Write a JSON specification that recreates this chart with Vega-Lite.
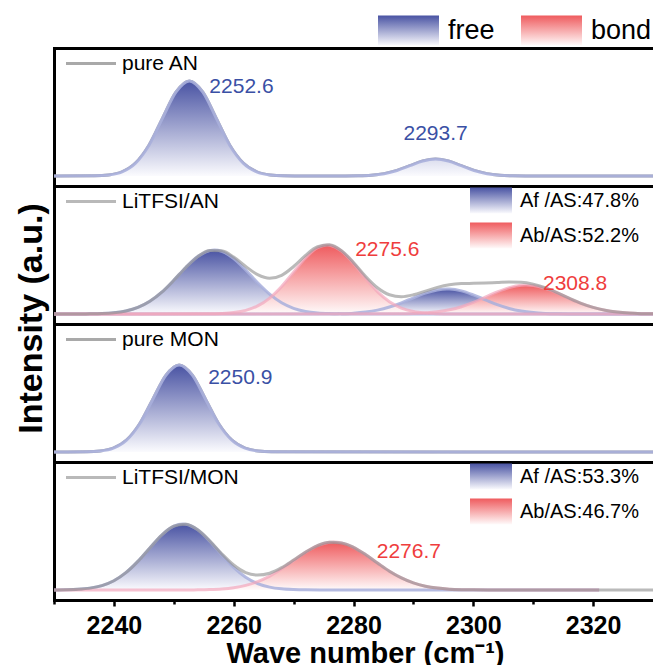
{
  "$schema": "https://vega.github.io/schema/vega-lite/v6.json",
  "padding": {"left": 14, "top": 15, "right": -3, "bottom": -3},
  "config": {
    "view": {"stroke": null},
    "font": "Liberation Sans",
    "axis": {"domainColor": "black", "domainWidth": 3, "domainCap": "square", "grid": false, "tickColor": "black", "labelColor": "black", "titleColor": "black"},
    "legend": {"labelFont": "Liberation Sans", "labelColor": "black", "padding": 0, "title": null}
  },
  "datasets": {
    "pk": [
      {"panel": "pure AN", "peak": "AN", "type": "free", "x": 2230, "y": 0},
      {"panel": "pure AN", "peak": "AN", "type": "free", "x": 2236.85, "y": 0.21},
      {"panel": "pure AN", "peak": "AN", "type": "free", "x": 2239.1, "y": 1.05},
      {"panel": "pure AN", "peak": "AN", "type": "free", "x": 2241.35, "y": 4.17},
      {"panel": "pure AN", "peak": "AN", "type": "free", "x": 2243.6, "y": 12.9},
      {"panel": "pure AN", "peak": "AN", "type": "free", "x": 2245.85, "y": 30.8},
      {"panel": "pure AN", "peak": "AN", "type": "free", "x": 2248.1, "y": 57.6},
      {"panel": "pure AN", "peak": "AN", "type": "free", "x": 2250.35, "y": 83.8},
      {"panel": "pure AN", "peak": "AN", "type": "free", "x": 2252.6, "y": 95},
      {"panel": "pure AN", "peak": "AN", "type": "free", "x": 2254.85, "y": 83.8},
      {"panel": "pure AN", "peak": "AN", "type": "free", "x": 2257.1, "y": 57.6},
      {"panel": "pure AN", "peak": "AN", "type": "free", "x": 2259.35, "y": 30.8},
      {"panel": "pure AN", "peak": "AN", "type": "free", "x": 2261.6, "y": 12.9},
      {"panel": "pure AN", "peak": "AN", "type": "free", "x": 2263.85, "y": 4.17},
      {"panel": "pure AN", "peak": "AN", "type": "free", "x": 2266.1, "y": 1.05},
      {"panel": "pure AN", "peak": "AN", "type": "free", "x": 2268.35, "y": 0.21},
      {"panel": "pure AN", "peak": "AN", "type": "free", "x": 2272, "y": 0},
      {"panel": "pure AN", "peak": "AN", "type": "free", "x": 2278.65, "y": 0.04},
      {"panel": "pure AN", "peak": "AN", "type": "free", "x": 2280.8, "y": 0.19},
      {"panel": "pure AN", "peak": "AN", "type": "free", "x": 2282.95, "y": 0.75},
      {"panel": "pure AN", "peak": "AN", "type": "free", "x": 2285.1, "y": 2.3},
      {"panel": "pure AN", "peak": "AN", "type": "free", "x": 2287.25, "y": 5.52},
      {"panel": "pure AN", "peak": "AN", "type": "free", "x": 2289.4, "y": 10.3},
      {"panel": "pure AN", "peak": "AN", "type": "free", "x": 2291.55, "y": 15.0},
      {"panel": "pure AN", "peak": "AN", "type": "free", "x": 2293.7, "y": 17},
      {"panel": "pure AN", "peak": "AN", "type": "free", "x": 2295.85, "y": 15.0},
      {"panel": "pure AN", "peak": "AN", "type": "free", "x": 2298.0, "y": 10.3},
      {"panel": "pure AN", "peak": "AN", "type": "free", "x": 2300.15, "y": 5.52},
      {"panel": "pure AN", "peak": "AN", "type": "free", "x": 2302.3, "y": 2.3},
      {"panel": "pure AN", "peak": "AN", "type": "free", "x": 2304.45, "y": 0.75},
      {"panel": "pure AN", "peak": "AN", "type": "free", "x": 2306.6, "y": 0.19},
      {"panel": "pure AN", "peak": "AN", "type": "free", "x": 2308.75, "y": 0.04},
      {"panel": "pure AN", "peak": "AN", "type": "free", "x": 2330, "y": 0},

      {"panel": "LiTFSI/AN", "peak": "ANf1", "type": "free", "x": 2230, "y": 0},
      {"panel": "LiTFSI/AN", "peak": "ANf1", "type": "free", "x": 2234, "y": 0.05},
      {"panel": "LiTFSI/AN", "peak": "ANf1", "type": "free", "x": 2236, "y": 0.16},
      {"panel": "LiTFSI/AN", "peak": "ANf1", "type": "free", "x": 2238, "y": 0.47},
      {"panel": "LiTFSI/AN", "peak": "ANf1", "type": "free", "x": 2240, "y": 1.27},
      {"panel": "LiTFSI/AN", "peak": "ANf1", "type": "free", "x": 2242, "y": 3.05},
      {"panel": "LiTFSI/AN", "peak": "ANf1", "type": "free", "x": 2244, "y": 6.57},
      {"panel": "LiTFSI/AN", "peak": "ANf1", "type": "free", "x": 2246, "y": 12.67},
      {"panel": "LiTFSI/AN", "peak": "ANf1", "type": "free", "x": 2248, "y": 21.8},
      {"panel": "LiTFSI/AN", "peak": "ANf1", "type": "free", "x": 2250, "y": 33.7},
      {"panel": "LiTFSI/AN", "peak": "ANf1", "type": "free", "x": 2252, "y": 46.5},
      {"panel": "LiTFSI/AN", "peak": "ANf1", "type": "free", "x": 2254, "y": 57.4},
      {"panel": "LiTFSI/AN", "peak": "ANf1", "type": "free", "x": 2256, "y": 63.4},
      {"panel": "LiTFSI/AN", "peak": "ANf1", "type": "free", "x": 2256.8, "y": 64},
      {"panel": "LiTFSI/AN", "peak": "ANf1", "type": "free", "x": 2258, "y": 62.7},
      {"panel": "LiTFSI/AN", "peak": "ANf1", "type": "free", "x": 2260, "y": 55.5},
      {"panel": "LiTFSI/AN", "peak": "ANf1", "type": "free", "x": 2262, "y": 44.0},
      {"panel": "LiTFSI/AN", "peak": "ANf1", "type": "free", "x": 2264, "y": 31.2},
      {"panel": "LiTFSI/AN", "peak": "ANf1", "type": "free", "x": 2266, "y": 19.8},
      {"panel": "LiTFSI/AN", "peak": "ANf1", "type": "free", "x": 2268, "y": 11.2},
      {"panel": "LiTFSI/AN", "peak": "ANf1", "type": "free", "x": 2270, "y": 5.69},
      {"panel": "LiTFSI/AN", "peak": "ANf1", "type": "free", "x": 2272, "y": 2.59},
      {"panel": "LiTFSI/AN", "peak": "ANf1", "type": "free", "x": 2274, "y": 1.05},
      {"panel": "LiTFSI/AN", "peak": "ANf1", "type": "free", "x": 2276, "y": 0.38},
      {"panel": "LiTFSI/AN", "peak": "ANf1", "type": "free", "x": 2278, "y": 0.12},
      {"panel": "LiTFSI/AN", "peak": "ANf1", "type": "free", "x": 2280, "y": 0.03},
      {"panel": "LiTFSI/AN", "peak": "ANf1", "type": "free", "x": 2330, "y": 0},

      {"panel": "LiTFSI/AN", "peak": "ANf2", "type": "free", "x": 2230, "y": 0},
      {"panel": "LiTFSI/AN", "peak": "ANf2", "type": "free", "x": 2276, "y": 0.12},
      {"panel": "LiTFSI/AN", "peak": "ANf2", "type": "free", "x": 2278, "y": 0.34},
      {"panel": "LiTFSI/AN", "peak": "ANf2", "type": "free", "x": 2280, "y": 0.85},
      {"panel": "LiTFSI/AN", "peak": "ANf2", "type": "free", "x": 2282, "y": 1.92},
      {"panel": "LiTFSI/AN", "peak": "ANf2", "type": "free", "x": 2284, "y": 3.86},
      {"panel": "LiTFSI/AN", "peak": "ANf2", "type": "free", "x": 2286, "y": 6.95},
      {"panel": "LiTFSI/AN", "peak": "ANf2", "type": "free", "x": 2288, "y": 11.2},
      {"panel": "LiTFSI/AN", "peak": "ANf2", "type": "free", "x": 2290, "y": 16.2},
      {"panel": "LiTFSI/AN", "peak": "ANf2", "type": "free", "x": 2292, "y": 20.9},
      {"panel": "LiTFSI/AN", "peak": "ANf2", "type": "free", "x": 2294, "y": 24.1},
      {"panel": "LiTFSI/AN", "peak": "ANf2", "type": "free", "x": 2295.6, "y": 25},
      {"panel": "LiTFSI/AN", "peak": "ANf2", "type": "free", "x": 2296, "y": 24.95},
      {"panel": "LiTFSI/AN", "peak": "ANf2", "type": "free", "x": 2298, "y": 23.1},
      {"panel": "LiTFSI/AN", "peak": "ANf2", "type": "free", "x": 2300, "y": 19.1},
      {"panel": "LiTFSI/AN", "peak": "ANf2", "type": "free", "x": 2302, "y": 14.2},
      {"panel": "LiTFSI/AN", "peak": "ANf2", "type": "free", "x": 2304, "y": 9.38},
      {"panel": "LiTFSI/AN", "peak": "ANf2", "type": "free", "x": 2306, "y": 5.57},
      {"panel": "LiTFSI/AN", "peak": "ANf2", "type": "free", "x": 2308, "y": 2.95},
      {"panel": "LiTFSI/AN", "peak": "ANf2", "type": "free", "x": 2310, "y": 1.40},
      {"panel": "LiTFSI/AN", "peak": "ANf2", "type": "free", "x": 2312, "y": 0.60},
      {"panel": "LiTFSI/AN", "peak": "ANf2", "type": "free", "x": 2314, "y": 0.23},
      {"panel": "LiTFSI/AN", "peak": "ANf2", "type": "free", "x": 2316, "y": 0.08},
      {"panel": "LiTFSI/AN", "peak": "ANf2", "type": "free", "x": 2330, "y": 0},

      {"panel": "LiTFSI/AN", "peak": "ANb1", "type": "bond", "x": 2230, "y": 0},
      {"panel": "LiTFSI/AN", "peak": "ANb1", "type": "bond", "x": 2256, "y": 0.15},
      {"panel": "LiTFSI/AN", "peak": "ANb1", "type": "bond", "x": 2258, "y": 0.49},
      {"panel": "LiTFSI/AN", "peak": "ANb1", "type": "bond", "x": 2260, "y": 1.42},
      {"panel": "LiTFSI/AN", "peak": "ANb1", "type": "bond", "x": 2262, "y": 3.61},
      {"panel": "LiTFSI/AN", "peak": "ANb1", "type": "bond", "x": 2264, "y": 8.08},
      {"panel": "LiTFSI/AN", "peak": "ANb1", "type": "bond", "x": 2266, "y": 15.9},
      {"panel": "LiTFSI/AN", "peak": "ANb1", "type": "bond", "x": 2268, "y": 27.5},
      {"panel": "LiTFSI/AN", "peak": "ANb1", "type": "bond", "x": 2270, "y": 41.8},
      {"panel": "LiTFSI/AN", "peak": "ANb1", "type": "bond", "x": 2272, "y": 56.1},
      {"panel": "LiTFSI/AN", "peak": "ANb1", "type": "bond", "x": 2274, "y": 66.2},
      {"panel": "LiTFSI/AN", "peak": "ANb1", "type": "bond", "x": 2275.6, "y": 69},
      {"panel": "LiTFSI/AN", "peak": "ANb1", "type": "bond", "x": 2276, "y": 68.8},
      {"panel": "LiTFSI/AN", "peak": "ANb1", "type": "bond", "x": 2278, "y": 62.9},
      {"panel": "LiTFSI/AN", "peak": "ANb1", "type": "bond", "x": 2280, "y": 50.7},
      {"panel": "LiTFSI/AN", "peak": "ANb1", "type": "bond", "x": 2282, "y": 35.9},
      {"panel": "LiTFSI/AN", "peak": "ANb1", "type": "bond", "x": 2284, "y": 22.4},
      {"panel": "LiTFSI/AN", "peak": "ANb1", "type": "bond", "x": 2286, "y": 12.3},
      {"panel": "LiTFSI/AN", "peak": "ANb1", "type": "bond", "x": 2288, "y": 5.95},
      {"panel": "LiTFSI/AN", "peak": "ANb1", "type": "bond", "x": 2290, "y": 2.53},
      {"panel": "LiTFSI/AN", "peak": "ANb1", "type": "bond", "x": 2292, "y": 0.95},
      {"panel": "LiTFSI/AN", "peak": "ANb1", "type": "bond", "x": 2294, "y": 0.31},
      {"panel": "LiTFSI/AN", "peak": "ANb1", "type": "bond", "x": 2296, "y": 0.09},
      {"panel": "LiTFSI/AN", "peak": "ANb1", "type": "bond", "x": 2330, "y": 0},

      {"panel": "LiTFSI/AN", "peak": "ANb2", "type": "bond", "x": 2230, "y": 0},
      {"panel": "LiTFSI/AN", "peak": "ANb2", "type": "bond", "x": 2288, "y": 0.17},
      {"panel": "LiTFSI/AN", "peak": "ANb2", "type": "bond", "x": 2290, "y": 0.44},
      {"panel": "LiTFSI/AN", "peak": "ANb2", "type": "bond", "x": 2292, "y": 1.03},
      {"panel": "LiTFSI/AN", "peak": "ANb2", "type": "bond", "x": 2294, "y": 2.17},
      {"panel": "LiTFSI/AN", "peak": "ANb2", "type": "bond", "x": 2296, "y": 4.17},
      {"panel": "LiTFSI/AN", "peak": "ANb2", "type": "bond", "x": 2298, "y": 7.29},
      {"panel": "LiTFSI/AN", "peak": "ANb2", "type": "bond", "x": 2300, "y": 11.6},
      {"panel": "LiTFSI/AN", "peak": "ANb2", "type": "bond", "x": 2302, "y": 16.8},
      {"panel": "LiTFSI/AN", "peak": "ANb2", "type": "bond", "x": 2304, "y": 22.1},
      {"panel": "LiTFSI/AN", "peak": "ANb2", "type": "bond", "x": 2306, "y": 26.4},
      {"panel": "LiTFSI/AN", "peak": "ANb2", "type": "bond", "x": 2308, "y": 28.8},
      {"panel": "LiTFSI/AN", "peak": "ANb2", "type": "bond", "x": 2308.8, "y": 29},
      {"panel": "LiTFSI/AN", "peak": "ANb2", "type": "bond", "x": 2310, "y": 28.5},
      {"panel": "LiTFSI/AN", "peak": "ANb2", "type": "bond", "x": 2312, "y": 25.7},
      {"panel": "LiTFSI/AN", "peak": "ANb2", "type": "bond", "x": 2314, "y": 21.1},
      {"panel": "LiTFSI/AN", "peak": "ANb2", "type": "bond", "x": 2316, "y": 15.7},
      {"panel": "LiTFSI/AN", "peak": "ANb2", "type": "bond", "x": 2318, "y": 10.65},
      {"panel": "LiTFSI/AN", "peak": "ANb2", "type": "bond", "x": 2320, "y": 6.57},
      {"panel": "LiTFSI/AN", "peak": "ANb2", "type": "bond", "x": 2322, "y": 3.69},
      {"panel": "LiTFSI/AN", "peak": "ANb2", "type": "bond", "x": 2324, "y": 1.89},
      {"panel": "LiTFSI/AN", "peak": "ANb2", "type": "bond", "x": 2326, "y": 0.88},
      {"panel": "LiTFSI/AN", "peak": "ANb2", "type": "bond", "x": 2328, "y": 0.37},
      {"panel": "LiTFSI/AN", "peak": "ANb2", "type": "bond", "x": 2330, "y": 0.14},

      {"panel": "pure MON", "peak": "MON", "type": "free", "x": 2230, "y": 0},
      {"panel": "pure MON", "peak": "MON", "type": "free", "x": 2235.5, "y": 0.19},
      {"panel": "pure MON", "peak": "MON", "type": "free", "x": 2237.7, "y": 0.97},
      {"panel": "pure MON", "peak": "MON", "type": "free", "x": 2239.9, "y": 3.82},
      {"panel": "pure MON", "peak": "MON", "type": "free", "x": 2242.1, "y": 11.8},
      {"panel": "pure MON", "peak": "MON", "type": "free", "x": 2244.3, "y": 28.2},
      {"panel": "pure MON", "peak": "MON", "type": "free", "x": 2246.5, "y": 52.8},
      {"panel": "pure MON", "peak": "MON", "type": "free", "x": 2248.7, "y": 76.8},
      {"panel": "pure MON", "peak": "MON", "type": "free", "x": 2250.9, "y": 87},
      {"panel": "pure MON", "peak": "MON", "type": "free", "x": 2253.1, "y": 76.8},
      {"panel": "pure MON", "peak": "MON", "type": "free", "x": 2255.3, "y": 52.8},
      {"panel": "pure MON", "peak": "MON", "type": "free", "x": 2257.5, "y": 28.2},
      {"panel": "pure MON", "peak": "MON", "type": "free", "x": 2259.7, "y": 11.8},
      {"panel": "pure MON", "peak": "MON", "type": "free", "x": 2261.9, "y": 3.82},
      {"panel": "pure MON", "peak": "MON", "type": "free", "x": 2264.1, "y": 0.97},
      {"panel": "pure MON", "peak": "MON", "type": "free", "x": 2266.3, "y": 0.19},
      {"panel": "pure MON", "peak": "MON", "type": "free", "x": 2330, "y": 0},

      {"panel": "LiTFSI/MON", "peak": "MONf", "type": "free", "x": 2230, "y": 0.07},
      {"panel": "LiTFSI/MON", "peak": "MONf", "type": "free", "x": 2232, "y": 0.23},
      {"panel": "LiTFSI/MON", "peak": "MONf", "type": "free", "x": 2234, "y": 0.70},
      {"panel": "LiTFSI/MON", "peak": "MONf", "type": "free", "x": 2236, "y": 1.86},
      {"panel": "LiTFSI/MON", "peak": "MONf", "type": "free", "x": 2238, "y": 4.40},
      {"panel": "LiTFSI/MON", "peak": "MONf", "type": "free", "x": 2240, "y": 9.24},
      {"panel": "LiTFSI/MON", "peak": "MONf", "type": "free", "x": 2242, "y": 17.3},
      {"panel": "LiTFSI/MON", "peak": "MONf", "type": "free", "x": 2244, "y": 28.6},
      {"panel": "LiTFSI/MON", "peak": "MONf", "type": "free", "x": 2246, "y": 42.1},
      {"panel": "LiTFSI/MON", "peak": "MONf", "type": "free", "x": 2248, "y": 55.0},
      {"panel": "LiTFSI/MON", "peak": "MONf", "type": "free", "x": 2250, "y": 63.8},
      {"panel": "LiTFSI/MON", "peak": "MONf", "type": "free", "x": 2251.5, "y": 66},
      {"panel": "LiTFSI/MON", "peak": "MONf", "type": "free", "x": 2252, "y": 65.8},
      {"panel": "LiTFSI/MON", "peak": "MONf", "type": "free", "x": 2254, "y": 60.1},
      {"panel": "LiTFSI/MON", "peak": "MONf", "type": "free", "x": 2256, "y": 48.8},
      {"panel": "LiTFSI/MON", "peak": "MONf", "type": "free", "x": 2258, "y": 35.2},
      {"panel": "LiTFSI/MON", "peak": "MONf", "type": "free", "x": 2260, "y": 22.6},
      {"panel": "LiTFSI/MON", "peak": "MONf", "type": "free", "x": 2262, "y": 12.8},
      {"panel": "LiTFSI/MON", "peak": "MONf", "type": "free", "x": 2264, "y": 6.47},
      {"panel": "LiTFSI/MON", "peak": "MONf", "type": "free", "x": 2266, "y": 2.90},
      {"panel": "LiTFSI/MON", "peak": "MONf", "type": "free", "x": 2268, "y": 1.15},
      {"panel": "LiTFSI/MON", "peak": "MONf", "type": "free", "x": 2270, "y": 0.41},
      {"panel": "LiTFSI/MON", "peak": "MONf", "type": "free", "x": 2272, "y": 0.13},
      {"panel": "LiTFSI/MON", "peak": "MONf", "type": "free", "x": 2276, "y": 0},
      {"panel": "LiTFSI/MON", "peak": "MONf", "type": "free", "x": 2321, "y": 0},

      {"panel": "LiTFSI/MON", "peak": "MONb", "type": "bond", "x": 2230, "y": 0},
      {"panel": "LiTFSI/MON", "peak": "MONb", "type": "bond", "x": 2252, "y": 0.06},
      {"panel": "LiTFSI/MON", "peak": "MONb", "type": "bond", "x": 2254, "y": 0.18},
      {"panel": "LiTFSI/MON", "peak": "MONb", "type": "bond", "x": 2256, "y": 0.47},
      {"panel": "LiTFSI/MON", "peak": "MONb", "type": "bond", "x": 2258, "y": 1.09},
      {"panel": "LiTFSI/MON", "peak": "MONb", "type": "bond", "x": 2260, "y": 2.35},
      {"panel": "LiTFSI/MON", "peak": "MONb", "type": "bond", "x": 2262, "y": 4.64},
      {"panel": "LiTFSI/MON", "peak": "MONb", "type": "bond", "x": 2264, "y": 8.39},
      {"panel": "LiTFSI/MON", "peak": "MONb", "type": "bond", "x": 2266, "y": 13.9},
      {"panel": "LiTFSI/MON", "peak": "MONb", "type": "bond", "x": 2268, "y": 21.2},
      {"panel": "LiTFSI/MON", "peak": "MONb", "type": "bond", "x": 2270, "y": 29.5},
      {"panel": "LiTFSI/MON", "peak": "MONb", "type": "bond", "x": 2272, "y": 37.8},
      {"panel": "LiTFSI/MON", "peak": "MONb", "type": "bond", "x": 2274, "y": 44.4},
      {"panel": "LiTFSI/MON", "peak": "MONb", "type": "bond", "x": 2276, "y": 47.7},
      {"panel": "LiTFSI/MON", "peak": "MONb", "type": "bond", "x": 2276.7, "y": 48},
      {"panel": "LiTFSI/MON", "peak": "MONb", "type": "bond", "x": 2278, "y": 47.1},
      {"panel": "LiTFSI/MON", "peak": "MONb", "type": "bond", "x": 2280, "y": 42.7},
      {"panel": "LiTFSI/MON", "peak": "MONb", "type": "bond", "x": 2282, "y": 35.4},
      {"panel": "LiTFSI/MON", "peak": "MONb", "type": "bond", "x": 2284, "y": 27.0},
      {"panel": "LiTFSI/MON", "peak": "MONb", "type": "bond", "x": 2286, "y": 18.8},
      {"panel": "LiTFSI/MON", "peak": "MONb", "type": "bond", "x": 2288, "y": 12.1},
      {"panel": "LiTFSI/MON", "peak": "MONb", "type": "bond", "x": 2290, "y": 7.09},
      {"panel": "LiTFSI/MON", "peak": "MONb", "type": "bond", "x": 2292, "y": 3.82},
      {"panel": "LiTFSI/MON", "peak": "MONb", "type": "bond", "x": 2294, "y": 1.89},
      {"panel": "LiTFSI/MON", "peak": "MONb", "type": "bond", "x": 2296, "y": 0.85},
      {"panel": "LiTFSI/MON", "peak": "MONb", "type": "bond", "x": 2298, "y": 0.36},
      {"panel": "LiTFSI/MON", "peak": "MONb", "type": "bond", "x": 2300, "y": 0.14},
      {"panel": "LiTFSI/MON", "peak": "MONb", "type": "bond", "x": 2304, "y": 0},
      {"panel": "LiTFSI/MON", "peak": "MONb", "type": "bond", "x": 2321, "y": 0}
    ],
    "env": [
      {"panel": "LiTFSI/AN", "x": 2230, "y": 0},
      {"panel": "LiTFSI/AN", "x": 2232, "y": 0},
      {"panel": "LiTFSI/AN", "x": 2234, "y": 0.05},
      {"panel": "LiTFSI/AN", "x": 2236, "y": 0.16},
      {"panel": "LiTFSI/AN", "x": 2238, "y": 0.47},
      {"panel": "LiTFSI/AN", "x": 2240, "y": 1.27},
      {"panel": "LiTFSI/AN", "x": 2242, "y": 3.05},
      {"panel": "LiTFSI/AN", "x": 2244, "y": 6.57},
      {"panel": "LiTFSI/AN", "x": 2246, "y": 12.67},
      {"panel": "LiTFSI/AN", "x": 2248, "y": 21.8},
      {"panel": "LiTFSI/AN", "x": 2250, "y": 33.7},
      {"panel": "LiTFSI/AN", "x": 2252, "y": 46.5},
      {"panel": "LiTFSI/AN", "x": 2254, "y": 57.4},
      {"panel": "LiTFSI/AN", "x": 2256, "y": 63.55},
      {"panel": "LiTFSI/AN", "x": 2258, "y": 63.2},
      {"panel": "LiTFSI/AN", "x": 2260, "y": 56.9},
      {"panel": "LiTFSI/AN", "x": 2262, "y": 47.6},
      {"panel": "LiTFSI/AN", "x": 2264, "y": 39.3},
      {"panel": "LiTFSI/AN", "x": 2266, "y": 35.7},
      {"panel": "LiTFSI/AN", "x": 2268, "y": 38.7},
      {"panel": "LiTFSI/AN", "x": 2270, "y": 47.5},
      {"panel": "LiTFSI/AN", "x": 2272, "y": 58.7},
      {"panel": "LiTFSI/AN", "x": 2274, "y": 67.25},
      {"panel": "LiTFSI/AN", "x": 2276, "y": 69.3},
      {"panel": "LiTFSI/AN", "x": 2278, "y": 63.4},
      {"panel": "LiTFSI/AN", "x": 2280, "y": 51.6},
      {"panel": "LiTFSI/AN", "x": 2282, "y": 37.8},
      {"panel": "LiTFSI/AN", "x": 2284, "y": 26.3},
      {"panel": "LiTFSI/AN", "x": 2286, "y": 19.25},
      {"panel": "LiTFSI/AN", "x": 2288, "y": 17.3},
      {"panel": "LiTFSI/AN", "x": 2290, "y": 19.2},
      {"panel": "LiTFSI/AN", "x": 2292, "y": 22.9},
      {"panel": "LiTFSI/AN", "x": 2294, "y": 26.6},
      {"panel": "LiTFSI/AN", "x": 2296, "y": 29.2},
      {"panel": "LiTFSI/AN", "x": 2298, "y": 30.4},
      {"panel": "LiTFSI/AN", "x": 2300, "y": 30.7},
      {"panel": "LiTFSI/AN", "x": 2302, "y": 31.0},
      {"panel": "LiTFSI/AN", "x": 2304, "y": 31.5},
      {"panel": "LiTFSI/AN", "x": 2306, "y": 32.0},
      {"panel": "LiTFSI/AN", "x": 2308, "y": 31.75},
      {"panel": "LiTFSI/AN", "x": 2310, "y": 29.9},
      {"panel": "LiTFSI/AN", "x": 2312, "y": 26.3},
      {"panel": "LiTFSI/AN", "x": 2314, "y": 21.3},
      {"panel": "LiTFSI/AN", "x": 2316, "y": 15.8},
      {"panel": "LiTFSI/AN", "x": 2318, "y": 10.65},
      {"panel": "LiTFSI/AN", "x": 2320, "y": 6.57},
      {"panel": "LiTFSI/AN", "x": 2322, "y": 3.69},
      {"panel": "LiTFSI/AN", "x": 2324, "y": 1.89},
      {"panel": "LiTFSI/AN", "x": 2326, "y": 0.88},
      {"panel": "LiTFSI/AN", "x": 2328, "y": 0.37},
      {"panel": "LiTFSI/AN", "x": 2330, "y": 0.14},

      {"panel": "LiTFSI/MON", "x": 2230, "y": 0.07},
      {"panel": "LiTFSI/MON", "x": 2232, "y": 0.23},
      {"panel": "LiTFSI/MON", "x": 2234, "y": 0.70},
      {"panel": "LiTFSI/MON", "x": 2236, "y": 1.86},
      {"panel": "LiTFSI/MON", "x": 2238, "y": 4.40},
      {"panel": "LiTFSI/MON", "x": 2240, "y": 9.24},
      {"panel": "LiTFSI/MON", "x": 2242, "y": 17.3},
      {"panel": "LiTFSI/MON", "x": 2244, "y": 28.6},
      {"panel": "LiTFSI/MON", "x": 2246, "y": 42.1},
      {"panel": "LiTFSI/MON", "x": 2248, "y": 55.0},
      {"panel": "LiTFSI/MON", "x": 2250, "y": 63.8},
      {"panel": "LiTFSI/MON", "x": 2252, "y": 65.8},
      {"panel": "LiTFSI/MON", "x": 2254, "y": 60.3},
      {"panel": "LiTFSI/MON", "x": 2256, "y": 49.3},
      {"panel": "LiTFSI/MON", "x": 2258, "y": 36.3},
      {"panel": "LiTFSI/MON", "x": 2260, "y": 24.95},
      {"panel": "LiTFSI/MON", "x": 2262, "y": 17.4},
      {"panel": "LiTFSI/MON", "x": 2264, "y": 14.9},
      {"panel": "LiTFSI/MON", "x": 2266, "y": 16.8},
      {"panel": "LiTFSI/MON", "x": 2268, "y": 22.35},
      {"panel": "LiTFSI/MON", "x": 2270, "y": 29.9},
      {"panel": "LiTFSI/MON", "x": 2272, "y": 37.9},
      {"panel": "LiTFSI/MON", "x": 2274, "y": 44.4},
      {"panel": "LiTFSI/MON", "x": 2276, "y": 47.7},
      {"panel": "LiTFSI/MON", "x": 2278, "y": 47.1},
      {"panel": "LiTFSI/MON", "x": 2280, "y": 42.7},
      {"panel": "LiTFSI/MON", "x": 2282, "y": 35.4},
      {"panel": "LiTFSI/MON", "x": 2284, "y": 27.0},
      {"panel": "LiTFSI/MON", "x": 2286, "y": 18.8},
      {"panel": "LiTFSI/MON", "x": 2288, "y": 12.1},
      {"panel": "LiTFSI/MON", "x": 2290, "y": 7.09},
      {"panel": "LiTFSI/MON", "x": 2292, "y": 3.82},
      {"panel": "LiTFSI/MON", "x": 2294, "y": 1.89},
      {"panel": "LiTFSI/MON", "x": 2296, "y": 0.85},
      {"panel": "LiTFSI/MON", "x": 2298, "y": 0.36},
      {"panel": "LiTFSI/MON", "x": 2300, "y": 0.14},
      {"panel": "LiTFSI/MON", "x": 2304, "y": 0},
      {"panel": "LiTFSI/MON", "x": 2330, "y": 0}
    ],
    "lab": [
      {"panel": "pure AN", "type": "free", "x": 2252.6, "y": 95, "label": "2252.6"},
      {"panel": "pure AN", "type": "free", "x": 2293.7, "y": 17, "label": "2293.7"},
      {"panel": "LiTFSI/AN", "type": "bond", "x": 2275.6, "y": 69, "label": "2275.6"},
      {"panel": "LiTFSI/AN", "type": "bond", "x": 2308.8, "y": 29, "label": "2308.8"},
      {"panel": "pure MON", "type": "free", "x": 2250.9, "y": 87, "label": "2250.9"},
      {"panel": "LiTFSI/MON", "type": "bond", "x": 2276.7, "y": 48, "label": "2276.7"}
    ]
  },
  "spacing": 0,
  "bounds": "flush",
  "resolve": {"scale": {"fill": "independent", "stroke": "independent", "shape": "independent"}, "legend": {"fill": "independent", "stroke": "independent", "shape": "independent"}},
  "vconcat": [
    {
      "width": 599, "height": 138,
      "resolve": {"axis": {"x": "independent", "y": "independent"}, "scale": {"shape": "independent"}, "legend": {"shape": "independent"}},
      "layer": [
        {
          "data": {"name": "pk"}, "transform": [{"filter": "datum.panel === 'pure AN'"}],
          "mark": {"type": "line", "interpolate": "monotone", "strokeWidth": 3},
          "encoding": {
            "x": {"field": "x", "type": "quantitative", "scale": {"domain": [2230, 2330], "nice": false, "zero": false}, "axis": {"orient": "top", "title": null, "labels": false, "ticks": false}},
            "y": {"field": "y", "type": "quantitative", "scale": {"domain": [-10, 128], "nice": false, "zero": false}, "axis": {"title": null, "labels": false, "ticks": false}},
            "detail": {"field": "peak"},
            "stroke": {"field": "panel", "type": "nominal", "scale": {"range": ["#a9a9a9"]}, "legend": {"orient": "none", "legendX": 12, "legendY": 4, "symbolType": "M-2.5,0H2.5", "symbolSize": 400, "symbolStrokeWidth": 3, "symbolOffset": 13.5, "labelOffset": 19.5, "labelFontSize": 21}}
          }
        },
        {
          "data": {"name": "pk"}, "transform": [{"filter": "datum.panel === 'pure AN'"}],
          "mark": {"type": "area", "interpolate": "monotone", "fill": {"gradient": "linear", "x1": 0, "y1": 0, "x2": 0, "y2": 1, "stops": [{"offset": 0, "color": "#4953a3"}, {"offset": 1, "color": "#fbfbfe"}]}},
          "encoding": {
            "x": {"field": "x", "type": "quantitative", "scale": {"domain": [2230, 2330], "nice": false, "zero": false}, "axis": null},
            "y": {"field": "y", "type": "quantitative", "stack": null, "scale": {"domain": [-10, 128], "nice": false, "zero": false}, "axis": null},
            "y2": {"datum": 0},
            "detail": {"field": "peak"}
          }
        },
        {
          "data": {"name": "pk"}, "transform": [{"filter": "datum.panel === 'pure AN'"}],
          "mark": {"type": "line", "interpolate": "monotone", "stroke": "#a8afdc", "strokeWidth": 3, "opacity": 0.9},
          "encoding": {
            "x": {"field": "x", "type": "quantitative", "scale": {"domain": [2230, 2330], "nice": false, "zero": false}, "axis": null},
            "y": {"field": "y", "type": "quantitative", "scale": {"domain": [-10, 128], "nice": false, "zero": false}, "axis": null},
            "detail": {"field": "peak"}
          }
        },
        {
          "data": {"name": "lab"}, "transform": [{"filter": "datum.label === '2252.6'"}],
          "mark": {"type": "text", "align": "left", "baseline": "middle", "dx": 20, "dy": 6, "fontSize": 21, "fill": "#3a50a5"},
          "encoding": {
            "x": {"field": "x", "type": "quantitative", "scale": {"domain": [2230, 2330], "nice": false, "zero": false}, "axis": null},
            "y": {"field": "y", "type": "quantitative", "scale": {"domain": [-10, 128], "nice": false, "zero": false}, "axis": null},
            "text": {"field": "label"}
          }
        },
        {
          "data": {"name": "lab"}, "transform": [{"filter": "datum.label === '2293.7'"}],
          "mark": {"type": "text", "align": "center", "baseline": "middle", "dx": 0, "dy": -25, "fontSize": 21, "fill": "#3a50a5"},
          "encoding": {
            "x": {"field": "x", "type": "quantitative", "scale": {"domain": [2230, 2330], "nice": false, "zero": false}, "axis": null},
            "y": {"field": "y", "type": "quantitative", "scale": {"domain": [-10, 128], "nice": false, "zero": false}, "axis": null},
            "text": {"field": "label"}
          }
        },
        {
          "data": {"name": "lab"}, "transform": [{"filter": "datum.panel === 'pure AN'"}],
          "mark": {"type": "point", "filled": true, "opacity": 0, "stroke": "#444444", "strokeWidth": 1, "fill": {"gradient": "linear", "x1": 0, "y1": 0, "x2": 0, "y2": 1, "stops": [{"offset": 0, "color": "#4953a3"}, {"offset": 1, "color": "#fbfbfe"}]}},
          "encoding": {
            "x": {"field": "x", "type": "quantitative", "scale": {"domain": [2230, 2330], "nice": false, "zero": false}, "axis": null},
            "y": {"field": "y", "type": "quantitative", "scale": {"domain": [-10, 128], "nice": false, "zero": false}, "axis": null},
            "shape": {"field": "type", "type": "nominal", "scale": {"domain": ["free"], "range": ["M-2.0333,-1H2.0333V1H-2.0333Z"]},
              "legend": {"orient": "none", "legendX": 324, "legendY": -33, "symbolSize": 900, "symbolStrokeColor": "#444444", "symbolStrokeWidth": 1, "symbolOpacity": 1, "symbolOffset": 15, "labelOffset": 24, "labelFontSize": 27}}
          }
        },
        {
          "data": {"name": "lab"}, "transform": [{"filter": "datum.panel === 'pure AN'"}],
          "mark": {"type": "point", "filled": true, "opacity": 0, "stroke": "#444444", "strokeWidth": 1, "fill": {"gradient": "linear", "x1": 0, "y1": 0, "x2": 0, "y2": 1, "stops": [{"offset": 0, "color": "#ef5b5e"}, {"offset": 1, "color": "#fffbfb"}]}},
          "encoding": {
            "x": {"field": "x", "type": "quantitative", "scale": {"domain": [2230, 2330], "nice": false, "zero": false}, "axis": null},
            "y": {"field": "y", "type": "quantitative", "scale": {"domain": [-10, 128], "nice": false, "zero": false}, "axis": null},
            "shape": {"field": "type", "type": "nominal", "scale": {"domain": ["bond"], "range": ["M-2.0333,-1H2.0333V1H-2.0333Z"]},
              "legend": {"orient": "none", "legendX": 467, "legendY": -33, "symbolSize": 900, "symbolStrokeColor": "#444444", "symbolStrokeWidth": 1, "symbolOpacity": 1, "symbolOffset": 15, "labelOffset": 24, "labelFontSize": 27}}
          }
        }
      ]
    },
    {
      "width": 599, "height": 138,
      "resolve": {"axis": {"x": "independent", "y": "independent"}, "scale": {"shape": "independent"}, "legend": {"shape": "independent"}},
      "layer": [
        {
          "data": {"name": "pk"}, "transform": [{"filter": "datum.panel === 'LiTFSI/AN' && datum.type === 'free'"}],
          "mark": {"type": "area", "interpolate": "monotone", "fill": {"gradient": "linear", "x1": 0, "y1": 0, "x2": 0, "y2": 1, "stops": [{"offset": 0, "color": "#4953a3"}, {"offset": 1, "color": "#fbfbfe"}]}},
          "encoding": {
            "x": {"field": "x", "type": "quantitative", "scale": {"domain": [2230, 2330], "nice": false, "zero": false}, "axis": {"orient": "top", "title": null, "labels": false, "ticks": false}},
            "y": {"field": "y", "type": "quantitative", "stack": null, "scale": {"domain": [-10, 128], "nice": false, "zero": false}, "axis": {"title": "Intensity (a.u.)", "titleFontSize": 34, "titleFontWeight": "bold", "titleY": 132, "titlePadding": 6, "labels": false, "ticks": false}},
            "y2": {"datum": 0},
            "detail": {"field": "peak"}
          }
        },
        {
          "data": {"name": "pk"}, "transform": [{"filter": "datum.panel === 'LiTFSI/AN' && datum.type === 'bond'"}],
          "mark": {"type": "area", "interpolate": "monotone", "fill": {"gradient": "linear", "x1": 0, "y1": 0, "x2": 0, "y2": 1, "stops": [{"offset": 0, "color": "#ef5b5e"}, {"offset": 1, "color": "#fffbfb"}]}},
          "encoding": {
            "x": {"field": "x", "type": "quantitative", "scale": {"domain": [2230, 2330], "nice": false, "zero": false}, "axis": null},
            "y": {"field": "y", "type": "quantitative", "stack": null, "scale": {"domain": [-10, 128], "nice": false, "zero": false}, "axis": null},
            "y2": {"datum": 0},
            "detail": {"field": "peak"}
          }
        },
        {
          "data": {"name": "pk"}, "transform": [{"filter": "datum.panel === 'LiTFSI/AN' && datum.type === 'free'"}],
          "mark": {"type": "line", "interpolate": "monotone", "stroke": "#a8afdc", "strokeWidth": 3, "opacity": 0.85},
          "encoding": {
            "x": {"field": "x", "type": "quantitative", "scale": {"domain": [2230, 2330], "nice": false, "zero": false}, "axis": null},
            "y": {"field": "y", "type": "quantitative", "scale": {"domain": [-10, 128], "nice": false, "zero": false}, "axis": null},
            "detail": {"field": "peak"}
          }
        },
        {
          "data": {"name": "pk"}, "transform": [{"filter": "datum.panel === 'LiTFSI/AN' && datum.type === 'bond'"}],
          "mark": {"type": "line", "interpolate": "monotone", "stroke": "#f2a6bc", "strokeWidth": 3, "opacity": 0.7},
          "encoding": {
            "x": {"field": "x", "type": "quantitative", "scale": {"domain": [2230, 2330], "nice": false, "zero": false}, "axis": null},
            "y": {"field": "y", "type": "quantitative", "scale": {"domain": [-10, 128], "nice": false, "zero": false}, "axis": null},
            "detail": {"field": "peak"}
          }
        },
        {
          "data": {"name": "env"}, "transform": [{"filter": "datum.panel === 'LiTFSI/AN'"}],
          "mark": {"type": "line", "interpolate": "monotone", "strokeWidth": 3, "opacity": 0.6},
          "encoding": {
            "x": {"field": "x", "type": "quantitative", "scale": {"domain": [2230, 2330], "nice": false, "zero": false}, "axis": null},
            "y": {"field": "y", "type": "quantitative", "scale": {"domain": [-10, 128], "nice": false, "zero": false}, "axis": null},
            "stroke": {"field": "panel", "type": "nominal", "scale": {"range": ["#8c8c8c"]}, "legend": {"orient": "none", "legendX": 12, "legendY": 4, "symbolType": "M-2.5,0H2.5", "symbolSize": 400, "symbolStrokeWidth": 3, "symbolOffset": 13.5, "labelOffset": 19.5, "labelFontSize": 21}}
          }
        },
        {
          "data": {"name": "lab"}, "transform": [{"filter": "datum.label === '2275.6'"}],
          "mark": {"type": "text", "align": "left", "baseline": "middle", "dx": 28, "dy": 5, "fontSize": 21, "fill": "#ef3d3d"},
          "encoding": {
            "x": {"field": "x", "type": "quantitative", "scale": {"domain": [2230, 2330], "nice": false, "zero": false}, "axis": null},
            "y": {"field": "y", "type": "quantitative", "scale": {"domain": [-10, 128], "nice": false, "zero": false}, "axis": null},
            "text": {"field": "label"}
          }
        },
        {
          "data": {"name": "lab"}, "transform": [{"filter": "datum.label === '2308.8'"}],
          "mark": {"type": "text", "align": "left", "baseline": "middle", "dx": 17, "dy": -1, "fontSize": 21, "fill": "#ef3d3d"},
          "encoding": {
            "x": {"field": "x", "type": "quantitative", "scale": {"domain": [2230, 2330], "nice": false, "zero": false}, "axis": null},
            "y": {"field": "y", "type": "quantitative", "scale": {"domain": [-10, 128], "nice": false, "zero": false}, "axis": null},
            "text": {"field": "label"}
          }
        },
        {
          "data": {"name": "lab"}, "transform": [{"filter": "datum.panel === 'LiTFSI/AN'"}],
          "mark": {"type": "point", "filled": true, "opacity": 0, "stroke": "#444444", "strokeWidth": 1, "fill": {"gradient": "linear", "x1": 0, "y1": 0, "x2": 0, "y2": 1, "stops": [{"offset": 0, "color": "#4953a3"}, {"offset": 1, "color": "#fbfbfe"}]}},
          "encoding": {
            "x": {"field": "x", "type": "quantitative", "scale": {"domain": [2230, 2330], "nice": false, "zero": false}, "axis": null},
            "y": {"field": "y", "type": "quantitative", "scale": {"domain": [-10, 128], "nice": false, "zero": false}, "axis": null},
            "shape": {"field": "type", "type": "nominal", "scale": {"domain": ["free"], "range": ["M-1.615,-1H1.615V1H-1.615Z"]},
              "legend": {"orient": "none", "legendX": 416, "legendY": 1, "symbolSize": 676, "symbolStrokeColor": "#444444", "symbolStrokeWidth": 1, "symbolOpacity": 1, "symbolOffset": 7.5, "labelOffset": 15.5, "labelFontSize": 20, "labelExpr": "'Af /AS:47.8%'"}}
          }
        },
        {
          "data": {"name": "lab"}, "transform": [{"filter": "datum.panel === 'LiTFSI/AN'"}],
          "mark": {"type": "point", "filled": true, "opacity": 0, "stroke": "#444444", "strokeWidth": 1, "fill": {"gradient": "linear", "x1": 0, "y1": 0, "x2": 0, "y2": 1, "stops": [{"offset": 0, "color": "#ef5b5e"}, {"offset": 1, "color": "#fffbfb"}]}},
          "encoding": {
            "x": {"field": "x", "type": "quantitative", "scale": {"domain": [2230, 2330], "nice": false, "zero": false}, "axis": null},
            "y": {"field": "y", "type": "quantitative", "scale": {"domain": [-10, 128], "nice": false, "zero": false}, "axis": null},
            "shape": {"field": "type", "type": "nominal", "scale": {"domain": ["bond"], "range": ["M-1.615,-1H1.615V1H-1.615Z"]},
              "legend": {"orient": "none", "legendX": 416, "legendY": 36, "symbolSize": 676, "symbolStrokeColor": "#444444", "symbolStrokeWidth": 1, "symbolOpacity": 1, "symbolOffset": 7.5, "labelOffset": 15.5, "labelFontSize": 20, "labelExpr": "'Ab/AS:52.2%'"}}
          }
        }
      ]
    },
    {
      "width": 599, "height": 138,
      "resolve": {"axis": {"x": "independent", "y": "independent"}},
      "layer": [
        {
          "data": {"name": "pk"}, "transform": [{"filter": "datum.panel === 'pure MON'"}],
          "mark": {"type": "line", "interpolate": "monotone", "strokeWidth": 3},
          "encoding": {
            "x": {"field": "x", "type": "quantitative", "scale": {"domain": [2230, 2330], "nice": false, "zero": false}, "axis": {"orient": "top", "title": null, "labels": false, "ticks": false}},
            "y": {"field": "y", "type": "quantitative", "scale": {"domain": [-10, 128], "nice": false, "zero": false}, "axis": {"title": null, "labels": false, "ticks": false}},
            "detail": {"field": "peak"},
            "stroke": {"field": "panel", "type": "nominal", "scale": {"range": ["#a9a9a9"]}, "legend": {"orient": "none", "legendX": 12, "legendY": 4, "symbolType": "M-2.5,0H2.5", "symbolSize": 400, "symbolStrokeWidth": 3, "symbolOffset": 13.5, "labelOffset": 19.5, "labelFontSize": 21}}
          }
        },
        {
          "data": {"name": "pk"}, "transform": [{"filter": "datum.panel === 'pure MON'"}],
          "mark": {"type": "area", "interpolate": "monotone", "fill": {"gradient": "linear", "x1": 0, "y1": 0, "x2": 0, "y2": 1, "stops": [{"offset": 0, "color": "#4953a3"}, {"offset": 1, "color": "#fbfbfe"}]}},
          "encoding": {
            "x": {"field": "x", "type": "quantitative", "scale": {"domain": [2230, 2330], "nice": false, "zero": false}, "axis": null},
            "y": {"field": "y", "type": "quantitative", "stack": null, "scale": {"domain": [-10, 128], "nice": false, "zero": false}, "axis": null},
            "y2": {"datum": 0},
            "detail": {"field": "peak"}
          }
        },
        {
          "data": {"name": "pk"}, "transform": [{"filter": "datum.panel === 'pure MON'"}],
          "mark": {"type": "line", "interpolate": "monotone", "stroke": "#a8afdc", "strokeWidth": 3, "opacity": 0.9},
          "encoding": {
            "x": {"field": "x", "type": "quantitative", "scale": {"domain": [2230, 2330], "nice": false, "zero": false}, "axis": null},
            "y": {"field": "y", "type": "quantitative", "scale": {"domain": [-10, 128], "nice": false, "zero": false}, "axis": null},
            "detail": {"field": "peak"}
          }
        },
        {
          "data": {"name": "lab"}, "transform": [{"filter": "datum.panel === 'pure MON'"}],
          "mark": {"type": "text", "align": "left", "baseline": "middle", "dx": 29, "dy": 13, "fontSize": 21, "fill": "#3a50a5"},
          "encoding": {
            "x": {"field": "x", "type": "quantitative", "scale": {"domain": [2230, 2330], "nice": false, "zero": false}, "axis": null},
            "y": {"field": "y", "type": "quantitative", "scale": {"domain": [-10, 128], "nice": false, "zero": false}, "axis": null},
            "text": {"field": "label"}
          }
        }
      ]
    },
    {
      "width": 599, "height": 138,
      "resolve": {"axis": {"x": "independent", "y": "independent"}, "scale": {"shape": "independent"}, "legend": {"shape": "independent"}},
      "layer": [
        {
          "data": {"name": "pk"}, "transform": [{"filter": "datum.panel === 'LiTFSI/MON' && datum.type === 'free'"}],
          "mark": {"type": "area", "interpolate": "monotone", "fill": {"gradient": "linear", "x1": 0, "y1": 0, "x2": 0, "y2": 1, "stops": [{"offset": 0, "color": "#4953a3"}, {"offset": 1, "color": "#fbfbfe"}]}},
          "encoding": {
            "x": {"field": "x", "type": "quantitative", "scale": {"domain": [2230, 2330], "nice": false, "zero": false}, "axis": {"orient": "top", "title": null, "labels": false, "ticks": false}},
            "y": {"field": "y", "type": "quantitative", "stack": null, "scale": {"domain": [-10, 128], "nice": false, "zero": false}, "axis": {"title": null, "labels": false, "ticks": false}},
            "y2": {"datum": 0},
            "detail": {"field": "peak"}
          }
        },
        {
          "data": {"name": "pk"}, "transform": [{"filter": "datum.panel === 'LiTFSI/MON' && datum.type === 'bond'"}],
          "mark": {"type": "area", "interpolate": "monotone", "fill": {"gradient": "linear", "x1": 0, "y1": 0, "x2": 0, "y2": 1, "stops": [{"offset": 0, "color": "#ef5b5e"}, {"offset": 1, "color": "#fffbfb"}]}},
          "encoding": {
            "x": {"field": "x", "type": "quantitative", "scale": {"domain": [2230, 2330], "nice": false, "zero": false}, "axis": null},
            "y": {"field": "y", "type": "quantitative", "stack": null, "scale": {"domain": [-10, 128], "nice": false, "zero": false}, "axis": null},
            "y2": {"datum": 0},
            "detail": {"field": "peak"}
          }
        },
        {
          "data": {"name": "pk"}, "transform": [{"filter": "datum.panel === 'LiTFSI/MON' && datum.type === 'free'"}],
          "mark": {"type": "line", "interpolate": "monotone", "stroke": "#a8afdc", "strokeWidth": 3, "opacity": 0.85},
          "encoding": {
            "x": {"field": "x", "type": "quantitative", "scale": {"domain": [2230, 2330], "nice": false, "zero": false},
              "axis": {"orient": "bottom", "values": [2230, 2250, 2270, 2290, 2310], "tickSize": 4, "tickWidth": 2.5, "labels": false, "domain": false, "title": null}},
            "y": {"field": "y", "type": "quantitative", "scale": {"domain": [-10, 128], "nice": false, "zero": false}, "axis": null},
            "detail": {"field": "peak"}
          }
        },
        {
          "data": {"name": "pk"}, "transform": [{"filter": "datum.panel === 'LiTFSI/MON' && datum.type === 'bond'"}],
          "mark": {"type": "line", "interpolate": "monotone", "stroke": "#f2a6bc", "strokeWidth": 3, "opacity": 0.7},
          "encoding": {
            "x": {"field": "x", "type": "quantitative", "scale": {"domain": [2230, 2330], "nice": false, "zero": false}, "axis": null},
            "y": {"field": "y", "type": "quantitative", "scale": {"domain": [-10, 128], "nice": false, "zero": false}, "axis": null},
            "detail": {"field": "peak"}
          }
        },
        {
          "data": {"name": "env"}, "transform": [{"filter": "datum.panel === 'LiTFSI/MON'"}],
          "mark": {"type": "line", "interpolate": "monotone", "strokeWidth": 3, "opacity": 0.6},
          "encoding": {
            "x": {"field": "x", "type": "quantitative", "scale": {"domain": [2230, 2330], "nice": false, "zero": false},
              "axis": {"orient": "bottom", "values": [2240, 2260, 2280, 2300, 2320], "tickSize": 6, "tickWidth": 2.5, "labelFontSize": 25, "labelFontWeight": "bold", "labelPadding": 7, "labelFlush": false, "labelOverlap": false, "format": "d", "title": "Wave number (cm⁻¹)", "titleFontSize": 29, "titleFontWeight": "bold", "titlePadding": 1, "titleX": 311}},
            "y": {"field": "y", "type": "quantitative", "scale": {"domain": [-10, 128], "nice": false, "zero": false}, "axis": null},
            "stroke": {"field": "panel", "type": "nominal", "scale": {"range": ["#8c8c8c"]}, "legend": {"orient": "none", "legendX": 12, "legendY": 4, "symbolType": "M-2.5,0H2.5", "symbolSize": 400, "symbolStrokeWidth": 3, "symbolOffset": 13.5, "labelOffset": 19.5, "labelFontSize": 21}}
          }
        },
        {
          "data": {"name": "lab"}, "transform": [{"filter": "datum.panel === 'LiTFSI/MON'"}],
          "mark": {"type": "text", "align": "left", "baseline": "middle", "dx": 43, "dy": 10, "fontSize": 21, "fill": "#ef3d3d"},
          "encoding": {
            "x": {"field": "x", "type": "quantitative", "scale": {"domain": [2230, 2330], "nice": false, "zero": false}, "axis": null},
            "y": {"field": "y", "type": "quantitative", "scale": {"domain": [-10, 128], "nice": false, "zero": false}, "axis": null},
            "text": {"field": "label"}
          }
        },
        {
          "data": {"name": "lab"}, "transform": [{"filter": "datum.panel === 'LiTFSI/MON'"}],
          "mark": {"type": "point", "filled": true, "opacity": 0, "stroke": "#444444", "strokeWidth": 1, "fill": {"gradient": "linear", "x1": 0, "y1": 0, "x2": 0, "y2": 1, "stops": [{"offset": 0, "color": "#4953a3"}, {"offset": 1, "color": "#fbfbfe"}]}},
          "encoding": {
            "x": {"field": "x", "type": "quantitative", "scale": {"domain": [2230, 2330], "nice": false, "zero": false}, "axis": null},
            "y": {"field": "y", "type": "quantitative", "scale": {"domain": [-10, 128], "nice": false, "zero": false}, "axis": null},
            "shape": {"field": "type", "type": "nominal", "scale": {"domain": ["free"], "range": ["M-1.615,-1H1.615V1H-1.615Z"]},
              "legend": {"orient": "none", "legendX": 416, "legendY": 1, "symbolSize": 676, "symbolStrokeColor": "#444444", "symbolStrokeWidth": 1, "symbolOpacity": 1, "symbolOffset": 7.5, "labelOffset": 15.5, "labelFontSize": 20, "labelExpr": "'Af /AS:53.3%'"}}
          }
        },
        {
          "data": {"name": "lab"}, "transform": [{"filter": "datum.panel === 'LiTFSI/MON'"}],
          "mark": {"type": "point", "filled": true, "opacity": 0, "stroke": "#444444", "strokeWidth": 1, "fill": {"gradient": "linear", "x1": 0, "y1": 0, "x2": 0, "y2": 1, "stops": [{"offset": 0, "color": "#ef5b5e"}, {"offset": 1, "color": "#fffbfb"}]}},
          "encoding": {
            "x": {"field": "x", "type": "quantitative", "scale": {"domain": [2230, 2330], "nice": false, "zero": false}, "axis": null},
            "y": {"field": "y", "type": "quantitative", "scale": {"domain": [-10, 128], "nice": false, "zero": false}, "axis": null},
            "shape": {"field": "type", "type": "nominal", "scale": {"domain": ["bond"], "range": ["M-1.615,-1H1.615V1H-1.615Z"]},
              "legend": {"orient": "none", "legendX": 416, "legendY": 36, "symbolSize": 676, "symbolStrokeColor": "#444444", "symbolStrokeWidth": 1, "symbolOpacity": 1, "symbolOffset": 7.5, "labelOffset": 15.5, "labelFontSize": 20, "labelExpr": "'Ab/AS:46.7%'"}}
          }
        }
      ]
    }
  ]
}
